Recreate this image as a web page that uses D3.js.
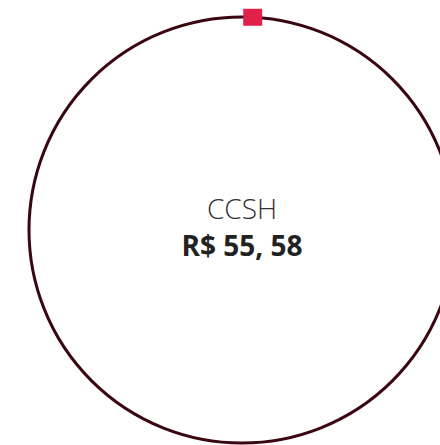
<html>
<script src='https://d3js.org/d3.v7.min.js'></script>
<style>
  body { margin: 0; background: #fff; }
  text { font-family: "Open Sans", sans-serif; }
</style>
<body>
<svg class="chart" width=440 height=445></svg>
<script>
// data
var categories = ["CCSH"];
var values = [55.58];
var valueLabels = ["R$ 55, 58"];
var markerShare = [0.008];   // where the little square sits round the ring

var cx = 242, cy = 230, r = 213;

var svg = d3.select(".chart");

// angle scale: 0..1 of the ring -> radians, starting at 12 o'clock
var angle = d3.scaleLinear().domain([0, 1]).range([0, 2 * Math.PI]);

var g = svg.append("g")
  .attr("transform", "translate(" + cx + "," + cy + ")");

// the ring
g.selectAll("circle.ring").data(values).enter()
  .append("circle")
    .attr("class", "ring")
    .attr("r", r)
    .attr("fill", "none")
    .attr("stroke", "#3a0711")
    .attr("stroke-width", 3);

// marker square on the ring
g.selectAll("rect.marker").data(markerShare).enter()
  .append("rect")
    .attr("class", "marker")
    .attr("x", function(d) { return r * Math.sin(angle(d)) - 9.5; })
    .attr("y", function(d) { return -r * Math.cos(angle(d)) - 8.5; })
    .attr("width", 19)
    .attr("height", 17)
    .attr("fill", "#e0214a");

// category name
g.selectAll("text.cat").data(categories).enter()
  .append("text")
    .attr("class", "cat")
    .attr("text-anchor", "middle")
    .attr("y", -11)
    .attr("font-size", 28)
    .attr("font-weight", 300)
    .attr("fill", "#333")
    .text(function(d) { return d; });

// value label
g.selectAll("text.val").data(valueLabels).enter()
  .append("text")
    .attr("class", "val")
    .attr("text-anchor", "middle")
    .attr("y", 26)
    .attr("font-size", 28)
    .attr("font-weight", 700)
    .attr("fill", "#222")
    .text(function(d) { return d; });
</script>
</body>
</html>
